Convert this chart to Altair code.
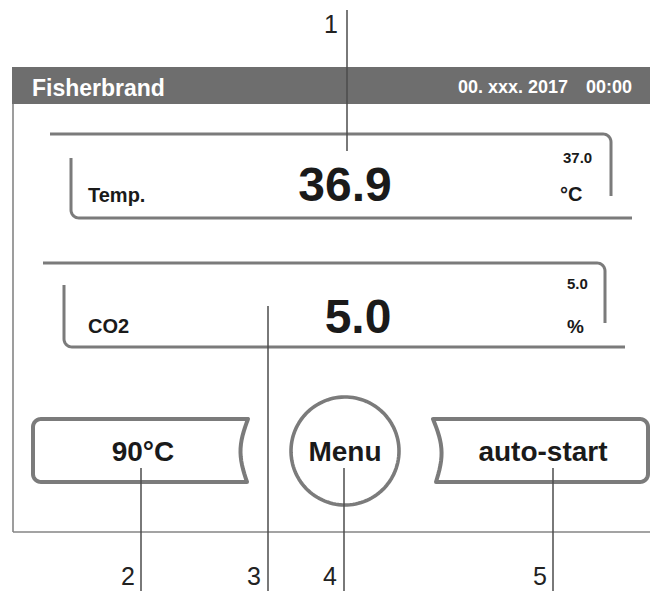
import numpy as np
import pandas as pd
import altair as alt

# ---------------- data (texts) ----------------
HEADER_TITLE = "Fisherbrand"
HEADER_DATE = "00. xxx. 2017"
HEADER_TIME = "00:00"
READING_NAMES = ["Temp.", "CO2"]
READING_VALUES = ["36.9", "5.0"]
SETPOINTS = ["37.0", "5.0"]
UNITS = ["°C", "%"]
BUTTONS = ["90°C", "Menu", "auto-start"]
CALLOUTS = ["1", "2", "3", "4", "5"]

# ---------------- geometry (image pixel coordinates, y downward) ----------------
HEADER_BOX = [12, 658, 67, 104]            # x, x2, y, y2
SCREEN_LEFT = [13, 104, 532]               # x, y, y2
SCREEN_BOTTOM = [13, 658, 532]             # x, x2, y
PANEL_TOP = [(50, 134, 611, 196), (43, 263, 605, 323)]
PANEL_BOTTOM = [(71, 158, 218, 632), (64, 285, 347, 625)]
PANEL_RADIUS = 8
BUTTON_LEFT = (33, 248, 419, 482)
BUTTON_RIGHT = (433, 648, 419, 482)
BUTTON_RADIUS = 8
BUTTON_CONCAVE = 7
MENU_CIRCLE = (345, 451, 54)
CALLOUT_X = [347, 141, 268, 344, 553]
CALLOUT_Y1 = [10, 468, 306, 468, 468]
CALLOUT_Y2 = [151, 599, 599, 599, 599]
CALLOUT_LABEL_X = [338, 135, 261, 337, 547]
CALLOUT_LABEL_Y = [33, 585, 585, 585, 585]

X0, X1 = 8, 650
Y0, Y1 = 8, 591
W, H = X1 - X0, Y1 - Y0

xs = alt.Scale(domain=[X0, X1])
ys = alt.Scale(domain=[Y0, Y1], reverse=True)


def arc(cx, cy, r, a0, a1, n=10):
    t = np.radians(np.linspace(a0, a1, n))
    return list(zip(cx + r * np.cos(t), cy + r * np.sin(t)))


paths = []


def add_path(name, pts, group):
    for i, (px, py) in enumerate(pts):
        paths.append({"path": name, "order": i, "x": float(px), "y": float(py), "group": group})


r = PANEL_RADIUS
for k, (x0, y, xr, yend) in enumerate(PANEL_TOP):
    pts = [(x0, y)] + arc(xr - r, y + r, r, -90, 0) + [(xr, yend)]
    add_path(f"top{k}", pts, "panel")
for k, (xl, ys0, y, xend) in enumerate(PANEL_BOTTOM):
    pts = [(xl, ys0)] + arc(xl + r, y - r, r, 180, 90) + [(xend, y)]
    add_path(f"bot{k}", pts, "panel")

br = BUTTON_RADIUS
s = np.linspace(0, 1, 16)
lx0, lx1, ly0, ly1 = BUTTON_LEFT
pts = [(lx1, ly0)] + arc(lx0 + br, ly0 + br, br, 270, 180) + arc(lx0 + br, ly1 - br, br, 180, 90)
pts += [(lx1 - 1 - BUTTON_CONCAVE * np.sin(np.pi * v) + v, ly1 - (ly1 - ly0) * v) for v in s]
add_path("btnL", pts, "button")
rx0, rx1, ry0, ry1 = BUTTON_RIGHT
pts = [(rx0, ry0)] + arc(rx1 - br, ry0 + br, br, -90, 0) + arc(rx1 - br, ry1 - br, br, 0, 90)
pts += [(rx0 + 3 - 3 * v + BUTTON_CONCAVE * np.sin(np.pi * v), ry1 - (ry1 - ry0) * v) for v in s]
add_path("btnR", pts, "button")
cx, cy, cr = MENU_CIRCLE
add_path("circle", arc(cx, cy, cr, 0, 360, 120), "circle")

paths_df = pd.DataFrame(paths)

base_enc = dict(
    x=alt.X("x:Q", scale=xs, axis=None),
    y=alt.Y("y:Q", scale=ys, axis=None),
    detail="path:N",
    order="order:Q",
)

GRAY = "#7b7b7b"

header = alt.Chart(pd.DataFrame([{"x": HEADER_BOX[0], "x2": min(HEADER_BOX[1], X1),
                                   "y": HEADER_BOX[2], "y2": HEADER_BOX[3]}])).mark_rect(
    color="#6e6e6e").encode(
    x=alt.X("x:Q", scale=xs, axis=None), x2="x2:Q",
    y=alt.Y("y:Q", scale=ys, axis=None), y2="y2:Q")

border_df = pd.DataFrame([
    {"x": SCREEN_LEFT[0], "x2": SCREEN_LEFT[0], "y": SCREEN_LEFT[1], "y2": SCREEN_LEFT[2]},
    {"x": SCREEN_BOTTOM[0], "x2": min(SCREEN_BOTTOM[1], X1), "y": SCREEN_BOTTOM[2], "y2": SCREEN_BOTTOM[2]},
])
border = alt.Chart(border_df).mark_rule(color="#858585", strokeWidth=1.6).encode(
    x=alt.X("x:Q", scale=xs, axis=None), x2="x2:Q",
    y=alt.Y("y:Q", scale=ys, axis=None), y2="y2:Q")

panels = alt.Chart(paths_df[paths_df.group == "panel"]).mark_line(
    color=GRAY, strokeWidth=3, strokeJoin="round", strokeCap="butt").encode(**base_enc)
buttons = alt.Chart(paths_df[paths_df.group == "button"]).mark_line(
    color=GRAY, strokeWidth=4, strokeJoin="round", strokeCap="round").encode(**base_enc)
circle = alt.Chart(paths_df[paths_df.group == "circle"]).mark_line(
    color=GRAY, strokeWidth=3.6, strokeJoin="round").encode(**base_enc)

callout_df = pd.DataFrame({"x": CALLOUT_X, "y": CALLOUT_Y1, "y2": [min(v, Y1) for v in CALLOUT_Y2]})
callouts = alt.Chart(callout_df).mark_rule(color="#4d4d4d", strokeWidth=1.5).encode(
    x=alt.X("x:Q", scale=xs, axis=None),
    y=alt.Y("y:Q", scale=ys, axis=None), y2="y2:Q")

FONT = "Liberation Sans"
TXT = "#1a1a1a"


def text_layer(rows, align, weight, color):
    df = pd.DataFrame(rows, columns=["label", "x", "y", "fs"])
    return alt.Chart(df).mark_text(align=align, baseline="alphabetic", font=FONT,
                                   fontWeight=weight, color=color).encode(
        x=alt.X("x:Q", scale=xs, axis=None),
        y=alt.Y("y:Q", scale=ys, axis=None),
        text="label:N",
        size=alt.Size("fs:Q", scale=None, legend=None))


header_left = text_layer([(HEADER_TITLE, 32, 96, 23)], "left", "bold", "white")
header_right = text_layer([(HEADER_DATE, 568, 93, 18), (HEADER_TIME, 632, 93, 18)], "right", "bold", "white")
big_vals = text_layer([(READING_VALUES[0], 345, 201, 48), (READING_VALUES[1], 358, 333, 48)],
                      "center", "bold", TXT)
names = text_layer([(READING_NAMES[0], 88, 202, 20), (READING_NAMES[1], 88, 333, 20),
                    (SETPOINTS[0], 563, 163, 15), (SETPOINTS[1], 567, 289, 15),
                    (UNITS[0], 560, 201, 20), (UNITS[1], 567, 333, 19)],
                   "left", "bold", TXT)
btn_text = text_layer([(BUTTONS[0], 143, 461, 28), (BUTTONS[1], 345, 461, 28), (BUTTONS[2], 543, 461, 28)],
                      "center", "bold", TXT)
callout_text = text_layer(list(zip(CALLOUTS, CALLOUT_LABEL_X, CALLOUT_LABEL_Y, [25] * 5)),
                          "right", "normal", "#222222")

chart = alt.layer(
    header, border, panels, buttons, circle, callouts,
    header_left, header_right, big_vals, names, btn_text, callout_text,
).properties(
    width=W, height=H, padding=0, autosize=alt.AutoSizeParams(type="none"),
    background="white",
).configure_view(stroke=None)

chart.save("out.html", embed_options={"renderer": "svg", "actions": False})
